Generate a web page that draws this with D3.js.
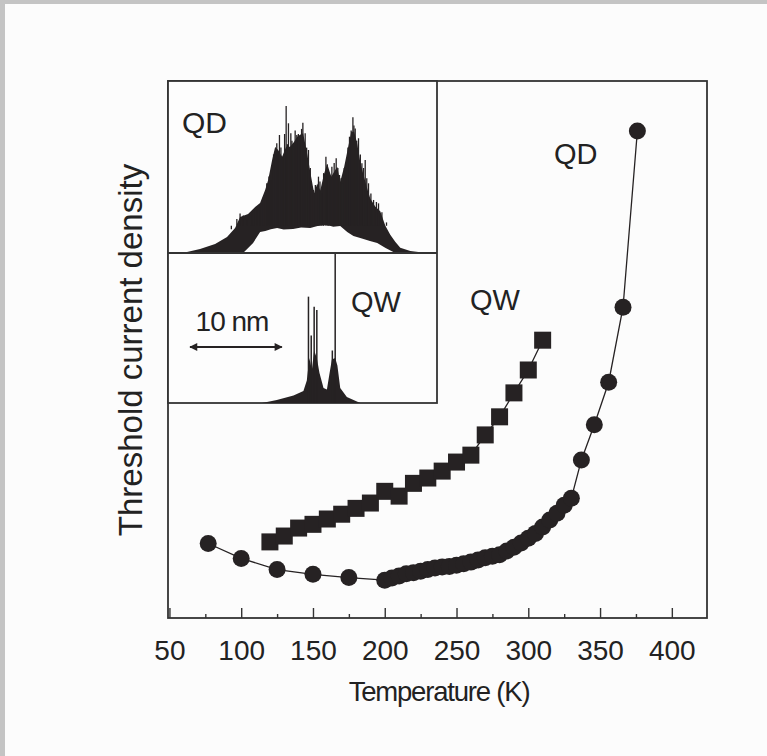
<!DOCTYPE html>
<html><head><meta charset="utf-8">
<script src="https://cdn.jsdelivr.net/npm/d3@7"></script>
<style>
body{margin:0;background:#c4c4c4}
svg{display:block}
text{font-family:"Liberation Sans",Arial,Helvetica,sans-serif;fill:#222}
</style>
</head><body>
<svg id="chart" width="767" height="756"></svg>
<script>
// ---------------- data ----------------
const qdTemps  = [77,100,125,150,175,200,205,210,215,220,225,230,235,240,245,250,255,260,265,270,275,280,285,290,295,300,305,310,315,320,325,330,337,346,356,366,376];
const qdValues = [12.9,10.1,8.0,7.1,6.5,6.0,6.4,6.8,7.2,7.4,7.7,8.0,8.3,8.5,8.6,8.8,9.1,9.4,9.8,10.2,10.5,10.8,11.5,12.2,13.0,13.9,14.8,16.0,17.3,18.6,20.1,21.4,28.6,35.2,43.2,57.3,90.4];
const qwTemps  = [120,130,140,150,160,170,180,190,200,210,220,230,240,250,260,270,280,290,300,310];
const qwValues = [13.2,14.3,15.8,16.5,17.5,18.4,19.5,20.5,22.7,21.8,24.2,25.2,26.5,28.2,29.5,33.3,36.7,41.2,45.5,51.1];
const xTickLabels = [50,100,150,200,250,300,350,400];
const xMinorTicks = [75,125,175,225,275,325,375];

// inset spectra (wavelength in nm, intensity in arb. units)
const qdSpecNm    = [0,0.76,2.07,3.49,5.13,6.43,7.31,7.85,8.72,9.49,10.03,10.58,10.91,11.34,11.67,12.0,12.43,12.87,13.30,13.74,14.07,14.39,14.72,15.16,15.59,15.92,16.25,16.58,17.01,17.34,17.78,18.10,18.43,18.76,19.19,19.63,19.96,20.28,20.61,20.94,21.26,21.70,22.03,22.57,23.12,23.66,24.21,24.75,25.30,26.39,27.48,28.57,29.3];
const qdSpecUpper = [0,0,0.006,0.024,0.053,0.094,0.147,0.212,0.229,0.271,0.294,0.371,0.429,0.547,0.624,0.606,0.566,0.625,0.625,0.654,0.684,0.695,0.705,0.584,0.448,0.351,0.409,0.368,0.468,0.525,0.448,0.478,0.507,0.419,0.507,0.625,0.713,0.713,0.642,0.536,0.466,0.380,0.321,0.274,0.245,0.162,0.108,0.066,0.031,0.012,0.004,0,0];
const qdDomeNm    = [8.18,9.27,10.03,10.6,11.2,11.89,12.6,13.63,14.5,15.49,16.4,17.34,18.0,18.76,19.52,20.2,20.94,22.0,22.79,23.7,24.54,25.3];
const qdDomeLower = [0,0.059,0.124,0.13,0.14,0.147,0.138,0.141,0.15,0.147,0.16,0.165,0.155,0.159,0.124,0.1,0.088,0.07,0.059,0.03,0.006,0];
const qdSpikeNm   = [6.9,7.5,7.85,8.2,8.58,9.0,9.31,9.7,10.03,10.4,10.76,11.0,11.23,11.5,11.85,12.14,12.3,12.5,12.7,12.87,13.0,13.12,13.38,13.5,13.67,13.85,14.03,14.2,14.39,14.55,14.69,14.94,15.1,15.3,15.5,15.85,16.05,16.39,16.55,16.76,16.95,17.2,17.35,17.48,17.65,17.85,18.1,18.32,18.5,18.68,18.85,19.01,19.2,19.41,19.6,19.77,19.95,20.14,20.25,20.39,20.55,20.75,20.95,21.12,21.3,21.48,21.65,21.84,22.1,22.39,22.7,22.93,23.3,23.8];
const qdSpikeTop  = [0.14,0.2,0.233,0.22,0.194,0.24,0.253,0.27,0.272,0.33,0.41,0.45,0.429,0.58,0.645,0.694,0.62,0.566,0.7,0.865,0.64,0.763,0.704,0.66,0.625,0.72,0.694,0.7,0.645,0.73,0.766,0.704,0.62,0.606,0.5,0.371,0.4,0.449,0.42,0.351,0.47,0.566,0.52,0.429,0.46,0.508,0.53,0.557,0.5,0.459,0.44,0.41,0.5,0.528,0.62,0.684,0.72,0.798,0.75,0.733,0.66,0.675,0.58,0.528,0.5,0.547,0.44,0.41,0.35,0.312,0.3,0.292,0.24,0.18];

const qwSpecNm    = [0,10.25,11.85,13.67,14.75,15.12,15.4,15.67,15.92,16.21,16.5,16.94,17.31,17.6,17.85,18.21,18.45,18.76,19.48,20.94,29.3];
const qwSpecUpper = [0,0,0.02,0.05,0.08,0.15,0.3,0.22,0.35,0.3,0.2,0.1,0.09,0.2,0.29,0.3,0.25,0.1,0.04,0,0];
const qwSpikeNm   = [15.3,15.6,15.92,16.21,17.9,18.21];
const qwSpikeTop  = [0.709,0.45,0.642,0.62,0.35,1.0];

const scaleBarNm = [2.4, 12.4];

// ---------------- layout ----------------
const W = 767, H = 756;
const plot = {left:168, right:707, top:81, bottom:618};
const inset = {left:168, right:437, top:81, mid:253, bottom:403};
const ink = "#262223";

const svg = d3.select("#chart");
svg.append("rect").attr("x",5).attr("y",4).attr("width",W-5).attr("height",H-4).attr("fill","#fcfcfc");

const x = d3.scaleLinear().domain([49, 424.5]).range([plot.left, plot.right]);
const y = d3.scaleLinear().domain([-1.1, 99.8]).range([plot.bottom, plot.top]);

// frame
svg.append("rect").attr("x",plot.left).attr("y",plot.top)
  .attr("width",plot.right-plot.left).attr("height",plot.bottom-plot.top)
  .attr("fill","none").attr("stroke","#333").attr("stroke-width",1.8);

// x axis: major ticks (inward) with labels
const gx = svg.append("g").attr("transform",`translate(0,${plot.bottom})`)
  .call(d3.axisBottom(x).tickValues(xTickLabels).tickSize(-10).tickPadding(22).tickFormat(d3.format("d")));
gx.select(".domain").remove();
gx.selectAll("line").attr("stroke","#333").attr("stroke-width",1.4);
gx.selectAll("text").attr("font-size",28).attr("fill","#222")
  .style("font-family",'"Liberation Sans",Arial,sans-serif');
// minor ticks
const gm = svg.append("g").attr("transform",`translate(0,${plot.bottom})`)
  .call(d3.axisBottom(x).tickValues(xMinorTicks).tickSize(-4).tickFormat(""));
gm.select(".domain").remove();
gm.selectAll("line").attr("stroke","#333").attr("stroke-width",1.4);

// axis titles
svg.append("text").attr("x",439).attr("y",701).attr("text-anchor","middle")
  .attr("font-size",27.5).attr("letter-spacing",-1.2).text("Temperature (K)");
svg.append("text").attr("transform","translate(142,350) rotate(-90)").attr("text-anchor","middle")
  .attr("font-size",33).text("Threshold current density");

// ---------------- inset ----------------
const xi = d3.scaleLinear().domain([0, 29.3]).range([inset.left, inset.right]);
const yTop = d3.scaleLinear().domain([0,1]).range([inset.mid, inset.mid-170]);
const yBot = d3.scaleLinear().domain([0,1]).range([inset.bottom, inset.bottom-150]);

svg.append("rect").attr("x",inset.left).attr("y",inset.top)
  .attr("width",inset.right-inset.left).attr("height",inset.bottom-inset.top)
  .attr("fill","#fdfdfd").attr("stroke","#333").attr("stroke-width",1.8);

const qdArea = d3.area().x((d,i)=>xi(qdSpecNm[i])).y0(yTop(0)).y1(d=>yTop(d));
svg.append("path").datum(qdSpecUpper).attr("d",qdArea).attr("fill",ink);
const domeArea = d3.area().x((d,i)=>xi(qdDomeNm[i])).y0(yTop(0)).y1(d=>yTop(d));
svg.append("path").datum(qdDomeLower).attr("d",domeArea).attr("fill","#fdfdfd");
svg.append("g").selectAll("line").data(qdSpikeTop).join("line")
  .attr("x1",(d,i)=>xi(qdSpikeNm[i])).attr("x2",(d,i)=>xi(qdSpikeNm[i]))
  .attr("y1",yTop(0.16)).attr("y2",d=>yTop(d))
  .attr("stroke",ink).attr("stroke-width",1.3);

const qwArea = d3.area().x((d,i)=>xi(qwSpecNm[i])).y0(yBot(0)).y1(d=>yBot(d));
svg.append("path").datum(qwSpecUpper).attr("d",qwArea).attr("fill",ink);
svg.append("g").selectAll("line").data(qwSpikeTop).join("line")
  .attr("x1",(d,i)=>xi(qwSpikeNm[i])).attr("x2",(d,i)=>xi(qwSpikeNm[i]))
  .attr("y1",yBot(0)).attr("y2",d=>yBot(d))
  .attr("stroke",ink).attr("stroke-width",1.5);

// divider
svg.append("line").attr("x1",inset.left).attr("x2",inset.right).attr("y1",inset.mid).attr("y2",inset.mid)
  .attr("stroke","#333").attr("stroke-width",1.8);

// scale bar arrow
const defs = svg.append("defs");
defs.append("marker").attr("id","ah").attr("viewBox","0 0 10 10").attr("refX",9).attr("refY",5)
  .attr("markerWidth",11).attr("markerHeight",8).attr("orient","auto-start-reverse")
  .attr("markerUnits","userSpaceOnUse")
  .append("path").attr("d","M0,0 L10,5 L0,10 z").attr("fill",ink);
svg.append("line").attr("x1",xi(scaleBarNm[0])).attr("x2",xi(scaleBarNm[1])).attr("y1",347).attr("y2",347)
  .attr("stroke",ink).attr("stroke-width",2.2).attr("marker-start","url(#ah)").attr("marker-end","url(#ah)");
svg.append("text").attr("x",232).attr("y",331).attr("text-anchor","middle").attr("font-size",28)
  .attr("letter-spacing",-1).text("10 nm");
svg.append("text").attr("x",182).attr("y",133).attr("font-size",30).text("QD");
svg.append("text").attr("x",351).attr("y",312).attr("font-size",29).text("QW");

// ---------------- main data ----------------
const qd = qdTemps.map((t,i)=>({t, v:qdValues[i]}));
const qw = qwTemps.map((t,i)=>({t, v:qwValues[i]}));
const line = d3.line().x(d=>x(d.t)).y(d=>y(d.v));

svg.append("path").datum(qd).attr("d",line).attr("fill","none").attr("stroke",ink).attr("stroke-width",1.3);
svg.append("path").datum(qw).attr("d",line).attr("fill","none").attr("stroke",ink).attr("stroke-width",1.3);

svg.append("g").selectAll("rect").data(qw).join("rect")
  .attr("x",d=>x(d.t)-8.5).attr("y",d=>y(d.v)-8.5).attr("width",17).attr("height",17).attr("fill",ink);
svg.append("g").selectAll("circle").data(qd).join("circle")
  .attr("cx",d=>x(d.t)).attr("cy",d=>y(d.v)).attr("r",8.5).attr("fill",ink);

svg.append("text").attr("x",470).attr("y",310).attr("font-size",29).text("QW");
svg.append("text").attr("x",554).attr("y",164).attr("font-size",29).text("QD");
</script>
</body></html>
